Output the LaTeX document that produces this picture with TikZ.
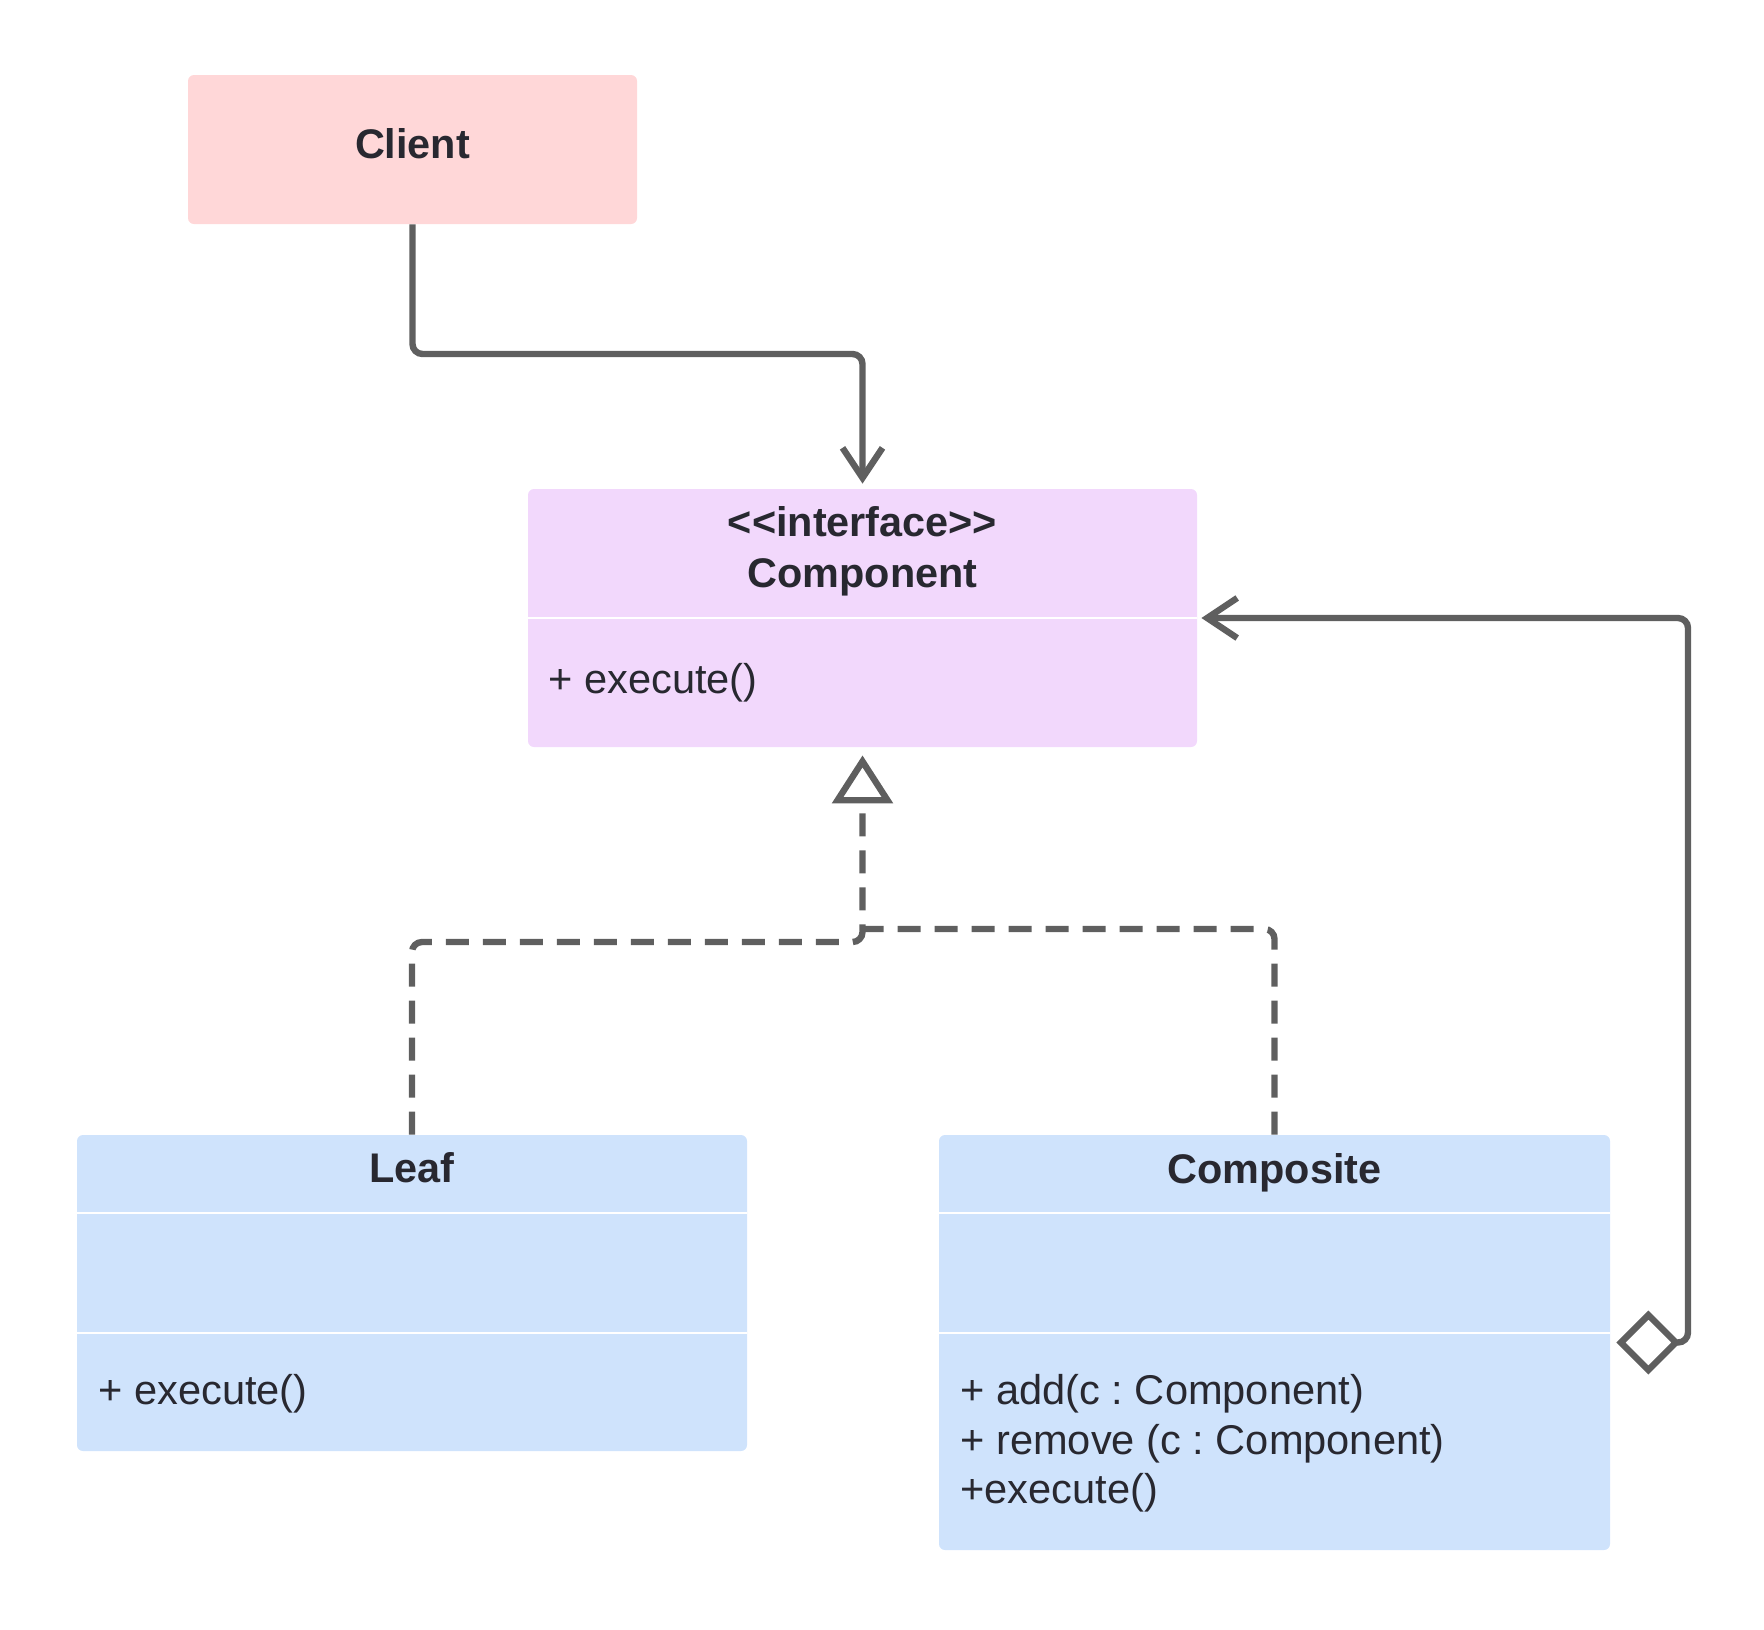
\documentclass[tikz,border=0pt]{standalone}
\usepackage{fontspec}
\setmainfont{Liberation Sans}
\usetikzlibrary{arrows.meta,positioning}
\definecolor{clientpink}{HTML}{FFD7D8}
\definecolor{ifacelilac}{HTML}{F2D8FC}
\definecolor{classblue}{HTML}{CFE3FC}
\definecolor{linegray}{HTML}{5F5F5F}
\definecolor{textdark}{HTML}{282830}
\tikzset{
  umltext/.style={text=textdark, inner sep=0pt,
    font=\fontsize{20.8pt}{25.5pt}\selectfont\frenchspacing},
  umlname/.style={umltext, align=center,
    font=\fontsize{20.7pt}{25.5pt}\selectfont\bfseries},
  umlbox/.style={rectangle, rounded corners=3pt, inner sep=0pt},
  divider/.style={draw=white, line width=1pt},
  conn/.style={draw=linegray, line width=3.2pt, rounded corners=5pt},
  assoc/.style={conn, -{Straight Barb[length=15pt,width=20pt]}, shorten >=2.5pt},
  realline/.style={conn, dash pattern=on 11.5pt off 7pt},
  realize/.style={realline, -{Triangle[open,length=24pt,width=30pt]}, shorten >=4pt},
  aggr/.style={conn, {Diamond[open,length=32pt,width=32pt]}-{Straight Barb[length=15pt,width=20pt]},
    shorten <=3pt, shorten >=2pt}
}
\begin{document}
\begin{tikzpicture}[x=0.5pt,y=-0.5pt]
\useasboundingbox (0,0) rectangle (1764,1629);

% classes
\node[umlbox, fill=clientpink, minimum width=224.5pt, minimum height=74.5pt]
  (client) at (412.5,149.5) {};
\node[umlbox, fill=ifacelilac, minimum width=334.5pt, minimum height=129pt]
  (component) at (862.5,618) {};
\node[umlbox, fill=classblue, minimum width=335pt, minimum height=158pt]
  (leaf) at (412,1293) {};
\node[umlbox, fill=classblue, minimum width=335.5pt, minimum height=207.5pt]
  (composite) at (1274.5,1342.5) {};

\draw[divider] (component.west) -- (component.east);
\draw[divider] ([yshift=-39pt]leaf.north west) -- ([yshift=-39pt]leaf.north east);
\draw[divider] ([yshift=-99pt]leaf.north west) -- ([yshift=-99pt]leaf.north east);
\draw[divider] ([yshift=-39pt]composite.north west) -- ([yshift=-39pt]composite.north east);
\draw[divider] ([yshift=-99pt]composite.north west) -- ([yshift=-99pt]composite.north east);

% texts
\node[umlname] (client-name) at (412.5,144) {Client};
\node[umlname] (component-name) at (862.5,551)
  {<\kern0pt<interface>\kern0pt>\\Component};
\node[umltext, anchor=west] (component-op) at (548,682.5) {+ execute()};
\node[umlname] (leaf-name) at (412,1168) {Leaf};
\node[umltext, anchor=west] (leaf-op) at (98,1393.5) {+ execute()};
\node[umlname] (composite-name) at (1274.5,1172.5) {Composite};
\node[umltext, anchor=west] (composite-add) at (960,1393.5) {+ add(c : Component)};
\node[umltext, anchor=west] (composite-remove) at (960,1443.5) {+ remove (c : Component)};
\node[umltext, anchor=west] (composite-exec) at (960,1492.5) {+execute()};

% connectors
\coordinate (client-bend) at (862.5,354);
\coordinate (leaf-bend) at (862.5,942);
\coordinate (composite-bend) at (862.5,929);
\coordinate (aggr-bend) at (1688,618);

\draw[assoc] (client.south) |- (client-bend) -- (component.north);
\draw[realize] (leaf.north) |- (leaf-bend) -- (component.south);
\draw[realline] (composite.north) |- (composite-bend);
\draw[aggr] (composite.east) -| (aggr-bend) -- (component.east);

\end{tikzpicture}
\end{document}
